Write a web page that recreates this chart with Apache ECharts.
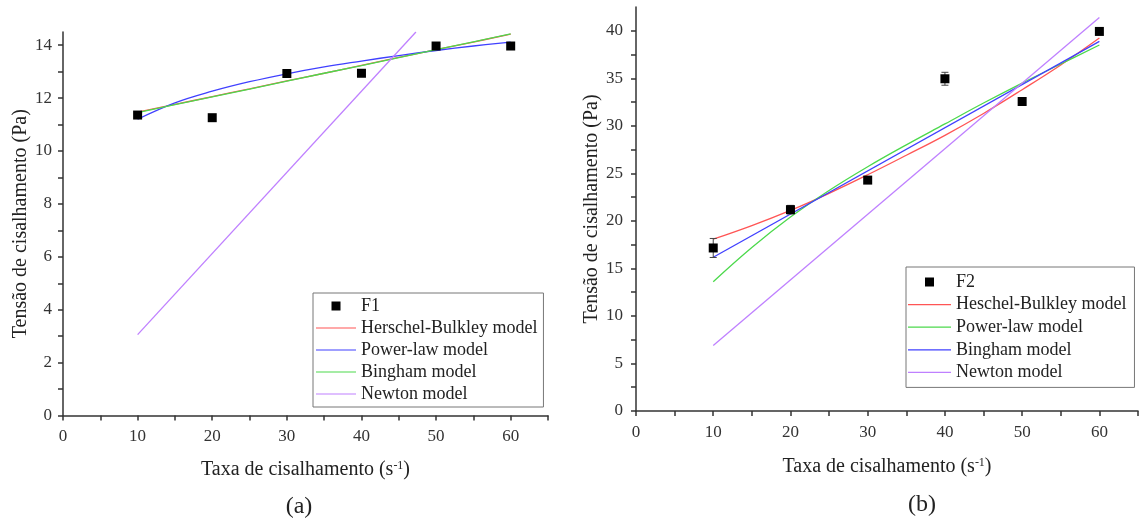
<!DOCTYPE html>
<html>
<head>
<meta charset="utf-8">
<title>Tensão de cisalhamento x Taxa de cisalhamento</title>
<script src="https://cdn.jsdelivr.net/npm/echarts@6.0.0/dist/echarts.min.js"></script>
<style>
html, body { margin: 0; padding: 0; background: #fff; }
#chart { width: 1141px; height: 524px; }
</style>
</head>
<body>
<div id="chart"></div>
<script>
// measured points (both samples share the same shear rates)
const shearRate = [10, 20, 30, 40, 50, 60];
const f1Stress = [11.36, 11.26, 12.93, 12.94, 13.97, 13.97];
const f2Stress = [17.15, 21.18, 24.29, 34.95, 32.56, 39.93];
const f2Error = [1.0, 0.45, 0.3, 0.68, 0.3, 0.3];

// fitted curves
const modelRate = [10, 15, 20, 25, 30, 35, 40, 45, 50, 55, 60];
const f1Herschel = [11.47, 11.76, 12.06, 12.35, 12.65, 12.94, 13.24, 13.54, 13.83, 14.12, 14.42];
const f1PowerLaw = [11.2, 11.82, 12.26, 12.62, 12.92, 13.18, 13.4, 13.61, 13.8, 13.97, 14.12];
const f1Bingham = [11.45, 11.75, 12.05, 12.34, 12.64, 12.94, 13.23, 13.53, 13.83, 14.13, 14.43];
const f1NewtonRate = [10, 47.3];
const f1Newton = [3.06, 14.5];

const f2Herschel = [18.07, 19.5, 21.1, 22.9, 24.85, 26.9, 29.0, 31.3, 33.8, 36.4, 39.23];
const f2PowerLaw = [13.6, 17.2, 20.4, 23.2, 25.7, 28.0, 30.2, 32.4, 34.5, 36.5, 38.5];
const f2LineRate = [10, 60];
const f2Bingham = [16.18, 38.88];
const f2Newton = [6.9, 41.4];

// axis ticks / labels
const xTicks = [0, 5, 10, 15, 20, 25, 30, 35, 40, 45, 50, 55, 60, 65];
const xLabels = [0, 10, 20, 30, 40, 50, 60];
const y1Ticks = [0, 1, 2, 3, 4, 5, 6, 7, 8, 9, 10, 11, 12, 13, 14];
const y1Labels = [0, 2, 4, 6, 8, 10, 12, 14];
const y2Ticks = [0, 2.5, 5, 7.5, 10, 12.5, 15, 17.5, 20, 22.5, 25, 27.5, 30, 32.5, 35, 37.5, 40];
const y2Labels = [0, 5, 10, 15, 20, 25, 30, 35, 40];

const serif = '"Liberation Serif", "Times New Roman", serif';
const RED = '#ff5555', BLUE = '#4040ff', GREEN = '#4cd94c', PURPLE = '#bf80ff';
// legend icons: small square for the points, thin bar for the fits
const SQUARE = 'path://M0,0H10V10H0Z';
const DASH = 'path://M0,0H40V1.2H0Z';

function pairs(xs, ys) {
    return xs.map((x, i) => [x, ys[i]]);
}

function xAxisFor(gridIndex, nameGap) {
    return {
        type: 'value', gridIndex: gridIndex, min: 0, max: 65,
        name: 'Taxa de cisalhamento (s{sup|-1})',
        nameLocation: 'middle', nameGap: nameGap,
        nameTextStyle: {
            fontFamily: serif, fontSize: 20, color: '#222',
            rich: { sup: { fontFamily: serif, fontSize: 12, color: '#222', verticalAlign: 'top' } }
        },
        axisLine: { onZero: false, lineStyle: { color: '#333', width: 1.5 } },
        axisTick: { customValues: xTicks, length: 5, lineStyle: { color: '#333', width: 1.5 } },
        axisLabel: { customValues: xLabels, margin: 13, fontFamily: serif, fontSize: 17, color: '#333' },
        splitLine: { show: false }
    };
}

function yAxisFor(gridIndex, max, ticks, labels, nameGap, margin) {
    return {
        type: 'value', gridIndex: gridIndex, min: 0, max: max,
        name: 'Tensão de cisalhamento (Pa)',
        nameLocation: 'middle', nameGap: nameGap,
        nameTextStyle: { fontFamily: serif, fontSize: 20, color: '#222' },
        axisLine: { show: true, onZero: false, lineStyle: { color: '#333', width: 1.5 } },
        axisTick: { show: true, customValues: ticks, length: 5, lineStyle: { color: '#333', width: 1.5 } },
        axisLabel: { customValues: labels, margin: margin, fontFamily: serif, fontSize: 17, color: '#333' },
        splitLine: { show: false }
    };
}

function curve(name, idx, data, color, smooth) {
    return {
        name: name, type: 'line', xAxisIndex: idx, yAxisIndex: idx,
        data: data, symbol: 'none', smooth: smooth ? 0.4 : false,
        lineStyle: { color: color, width: 1.3 }, itemStyle: { color: color },
        z: 2, silent: true
    };
}

function points(name, idx, ys) {
    return {
        name: name, type: 'scatter', xAxisIndex: idx, yAxisIndex: idx,
        data: pairs(shearRate, ys), symbol: 'rect', symbolSize: 9,
        itemStyle: { color: '#000', opacity: 1 }, z: 4
    };
}

function legendFor(left, top, padding, itemWidth, itemGap, names) {
    return {
        orient: 'vertical', left: left, top: top, padding: padding,
        itemWidth: itemWidth, itemHeight: 9, itemGap: itemGap,
        symbolKeepAspect: true,
        selectedMode: false, borderColor: '#777', borderWidth: 1,
        textStyle: { fontFamily: serif, fontSize: 18, lineHeight: 18, color: '#222' },
        data: names.map((n, i) => ({ name: n, icon: i === 0 ? SQUARE : DASH }))
    };
}

const chart = echarts.init(document.getElementById('chart'));

const option = {
    backgroundColor: '#fff',
    animation: false,
    grid: [
        { left: 63, top: 32, width: 485, height: 383.5 },
        { left: 636, top: 7, width: 502, height: 404 }
    ],
    xAxis: [xAxisFor(0, 44), xAxisFor(1, 46)],
    yAxis: [
        yAxisFor(0, 14.5, y1Ticks, y1Labels, 32, 11),
        yAxisFor(1, 42.5, y2Ticks, y2Labels, 27, 13)
    ],
    legend: [
        legendFor(313, 293, [4, 6, 4, 3], 40, 4,
            ['F1', 'Herschel-Bulkley model', 'Power-law model', 'Bingham model', 'Newton model']),
        legendFor(906, 267, [6, 8, 6, 2], 43, 4.6,
            ['F2', 'Heschel-Bulkley model', 'Power-law model ', 'Bingham model ', 'Newton model '])
    ],
    graphic: [
        { type: 'text', x: 299, y: 507, style: { text: '(a)', font: '24px ' + serif, fill: '#222', align: 'center', verticalAlign: 'middle', textAlign: 'center', textVerticalAlign: 'middle' } },
        { type: 'text', x: 922, y: 505, style: { text: '(b)', font: '24px ' + serif, fill: '#222', align: 'center', verticalAlign: 'middle', textAlign: 'center', textVerticalAlign: 'middle' } }
    ],
    series: [
        // (a) F1
        curve('Herschel-Bulkley model', 0, pairs(modelRate, f1Herschel), RED, true),
        curve('Power-law model', 0, pairs(modelRate, f1PowerLaw), BLUE, true),
        curve('Bingham model', 0, pairs(modelRate, f1Bingham), GREEN, false),
        curve('Newton model', 0, pairs(f1NewtonRate, f1Newton), PURPLE, false),
        points('F1', 0, f1Stress),
        // (b) F2
        curve('Heschel-Bulkley model', 1, pairs(modelRate, f2Herschel), RED, true),
        curve('Power-law model ', 1, pairs(modelRate, f2PowerLaw), GREEN, true),
        curve('Bingham model ', 1, pairs(f2LineRate, f2Bingham), BLUE, false),
        curve('Newton model ', 1, pairs(f2LineRate, f2Newton), PURPLE, false),
        {
            name: 'F2 error', type: 'custom', xAxisIndex: 1, yAxisIndex: 1,
            data: shearRate.map((x, i) => [x, f2Stress[i] - f2Error[i], f2Stress[i] + f2Error[i]]),
            encode: { x: 0, y: [1, 2] },
            renderItem: function (params, api) {
                const lo = api.coord([api.value(0), api.value(1)]);
                const hi = api.coord([api.value(0), api.value(2)]);
                const w = 3.5;
                const st = { stroke: '#444', lineWidth: 1 };
                return {
                    type: 'group',
                    children: [
                        { type: 'line', shape: { x1: lo[0], y1: lo[1], x2: hi[0], y2: hi[1] }, style: st },
                        { type: 'line', shape: { x1: lo[0] - w, y1: lo[1], x2: lo[0] + w, y2: lo[1] }, style: st },
                        { type: 'line', shape: { x1: hi[0] - w, y1: hi[1], x2: hi[0] + w, y2: hi[1] }, style: st }
                    ]
                };
            },
            z: 3, silent: true
        },
        points('F2', 1, f2Stress)
    ]
};

chart.setOption(option);
</script>
</body>
</html>
